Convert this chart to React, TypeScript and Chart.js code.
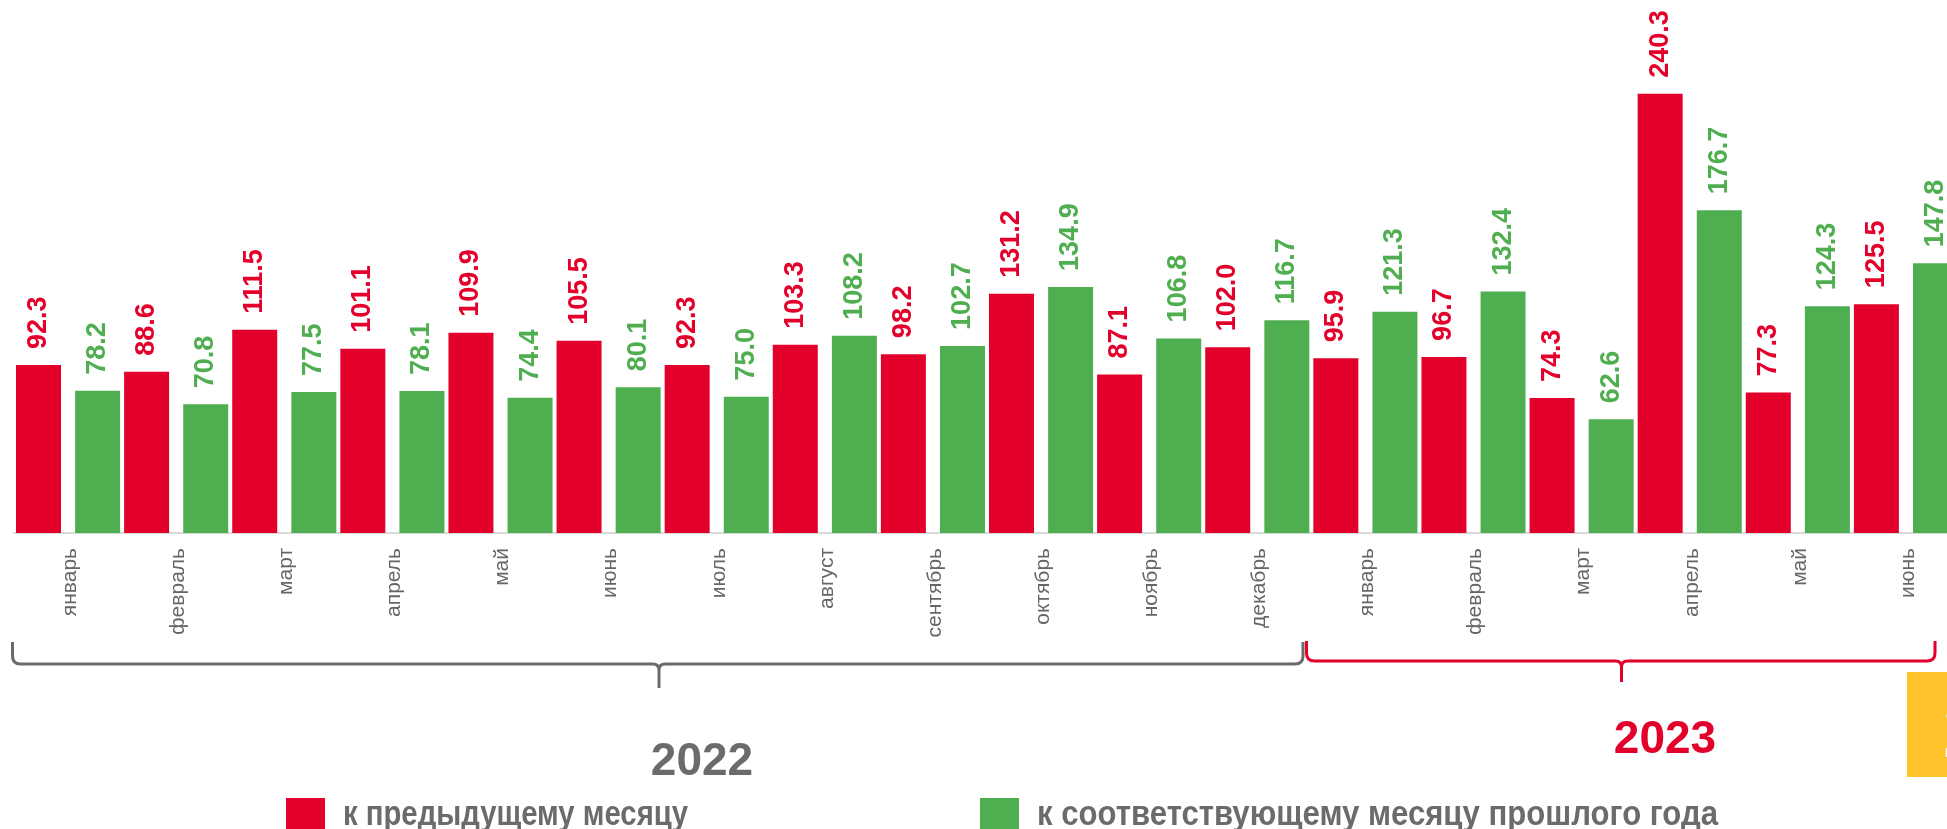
import React, { useEffect, useRef } from "react";
import { Chart, registerables } from "chart.js";

Chart.register(...registerables);

// ---- data ----
const months = [
  "январь", "февраль", "март", "апрель", "май", "июнь",
  "июль", "август", "сентябрь", "октябрь", "ноябрь", "декабрь",
  "январь", "февраль", "март", "апрель", "май", "июнь",
];
const toPrevMonth = [
  92.3, 88.6, 111.5, 101.1, 109.9, 105.5, 92.3, 103.3, 98.2, 131.2, 87.1, 102.0,
  95.9, 96.7, 74.3, 240.3, 77.3, 125.5,
];
const toPrevYear = [
  78.2, 70.8, 77.5, 78.1, 74.4, 80.1, 75.0, 108.2, 102.7, 134.9, 106.8, 116.7,
  121.3, 132.4, 62.6, 176.7, 124.3, 147.8,
];
const seriesNames = ["к предыдущему месяцу", "к соответствующему месяцу прошлого года"];
const yearLabels = ["2022", "2023"];

// ---- styles ----
const RED = "#E3002B";
const GREEN = "#4FAE50";
const GRAY = "#6B6B6B";
const YELLOW = "#FFC32C";
const SANS = "'Liberation Sans', Arial, sans-serif";

const valueLabels = {
  id: "valueLabels",
  afterDatasetsDraw(chart: any) {
    const ctx = chart.ctx;
    chart.data.datasets.forEach((ds: any, di: number) => {
      const meta = chart.getDatasetMeta(di);
      meta.data.forEach((bar: any, i: number) => {
        const v = ds.data[i] as number;
        ctx.save();
        ctx.translate(bar.x, bar.y - 15);
        ctx.rotate(-Math.PI / 2);
        ctx.font = `bold 27px ${SANS}`;
        ctx.fillStyle = ds.backgroundColor;
        ctx.textAlign = "left";
        ctx.textBaseline = "middle";
        ctx.fillText(v.toFixed(1), 0, 0);
        ctx.restore();
      });
    });
  },
};

function bracket(ctx: any, L: number, R: number, T: number, H: number, X: number, B: number, color: string) {
  const r = 8;
  const t = 6;
  ctx.save();
  ctx.strokeStyle = color;
  ctx.lineWidth = 3;
  ctx.lineJoin = "round";
  ctx.beginPath();
  ctx.moveTo(L, T);
  ctx.lineTo(L, H - r);
  ctx.quadraticCurveTo(L, H, L + r, H);
  ctx.lineTo(X - t, H);
  ctx.quadraticCurveTo(X, H, X, H + t);
  ctx.lineTo(X, B);
  ctx.moveTo(X, H + t);
  ctx.quadraticCurveTo(X, H, X + t, H);
  ctx.lineTo(R - r, H);
  ctx.quadraticCurveTo(R, H, R, H - r);
  ctx.lineTo(R, T);
  ctx.stroke();
  ctx.restore();
}

// condensed (narrow) text drawn by horizontal scaling to a target width
function narrowText(ctx: any, text: string, x: number, y: number, width: number) {
  const w = ctx.measureText(text).width;
  ctx.save();
  ctx.translate(x, y);
  ctx.scale(width / w, 1);
  ctx.fillText(text, 0, 0);
  ctx.restore();
}

const decorations = {
  id: "decorations",
  afterDraw(chart: any) {
    const ctx = chart.ctx;
    bracket(ctx, 12.5, 1303, 642, 664, 659, 688, GRAY);
    bracket(ctx, 1306.5, 1935, 641, 661, 1621.5, 682, RED);

    ctx.save();
    ctx.font = `bold 46px ${SANS}`;
    ctx.textAlign = "center";
    ctx.textBaseline = "alphabetic";
    ctx.fillStyle = GRAY;
    ctx.fillText(yearLabels[0], 702, 775);
    ctx.fillStyle = RED;
    ctx.fillText(yearLabels[1], 1665, 753);

    // legend
    ctx.textAlign = "left";
    ctx.font = `bold 35px ${SANS}`;
    ctx.fillStyle = RED;
    ctx.fillRect(286, 798, 39, 39);
    ctx.fillStyle = GRAY;
    narrowText(ctx, seriesNames[0], 343, 825, 345);
    ctx.fillStyle = GREEN;
    ctx.fillRect(980, 798, 39, 39);
    ctx.fillStyle = GRAY;
    narrowText(ctx, seriesNames[1], 1037, 825, 681);

    // yellow box (partially visible)
    ctx.fillStyle = YELLOW;
    ctx.fillRect(1907, 672, 60, 105);
    ctx.fillStyle = "#FFFFFF";
    ctx.font = `bold 80px ${SANS}`;
    ctx.fillText("2", 1943, 757);
    ctx.restore();
  },
};

export default function App() {
  const ref = useRef<HTMLCanvasElement>(null);
  useEffect(() => {
    document.body.style.margin = "0";
    const chart = new Chart(ref.current as HTMLCanvasElement, {
      type: "bar",
      data: {
        labels: months,
        datasets: [
          {
            label: seriesNames[0],
            data: toPrevMonth,
            backgroundColor: RED,
            borderColor: "rgba(255,255,255,0.45)",
            borderWidth: 1,
            categoryPercentage: 1.0935,
            barPercentage: 0.795,
          },
          {
            label: seriesNames[1],
            data: toPrevYear,
            backgroundColor: GREEN,
            borderColor: "rgba(255,255,255,0.45)",
            borderWidth: 1,
            categoryPercentage: 1.0935,
            barPercentage: 0.795,
          },
        ] as any,
      },
      options: {
        responsive: false,
        animation: false,
        layout: { padding: { left: 14, right: 2, top: 0, bottom: 0 } },
        plugins: {
          legend: { display: false },
          tooltip: { enabled: false },
        },
        scales: {
          y: {
            display: false,
            min: 0,
            max: 291,
          },
          x: {
            grid: { display: false },
            border: { display: true, color: "#D9D9D9", width: 2 },
            ticks: {
              autoSkip: false,
              minRotation: 90,
              maxRotation: 90,
              padding: 7,
              labelOffset: 2,
              color: "#666666",
              font: { family: SANS, size: 21 },
            },
            afterFit: (scale: any) => {
              scale.height = 296;
            },
          },
        },
      },
      plugins: [valueLabels, decorations],
    });
    return () => {
      chart.destroy();
    };
  }, []);

  return (
    <div
      style={{
        position: "fixed",
        left: 0,
        top: 0,
        width: 1947,
        height: 829,
        overflow: "hidden",
        background: "#ffffff",
      }}
    >
      <canvas ref={ref} width={1962} height={829} style={{ display: "block" }} />
    </div>
  );
}
